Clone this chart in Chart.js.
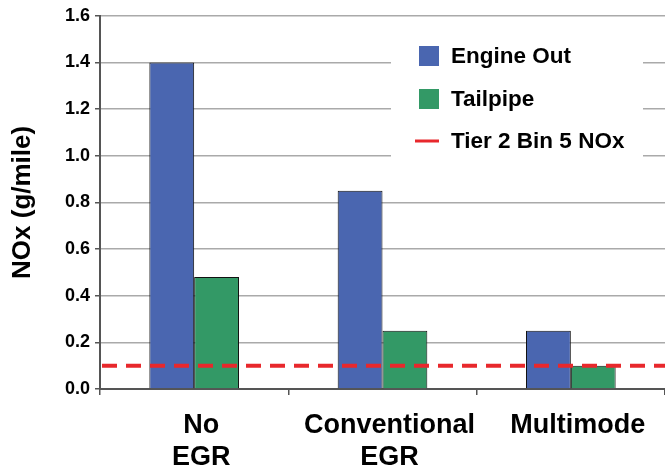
<!DOCTYPE html>
<html>
<head>
<meta charset="utf-8">
<script src="https://cdn.jsdelivr.net/npm/chart.js@4.4.0/dist/chart.umd.min.js"></script>
<style>
  html, body { margin: 0; padding: 0; background: #fff; }
  #wrap { width: 665px; height: 466px; }
</style>
</head>
<body>
<div id="wrap"><canvas id="myChart"></canvas></div>
<script>
/* data */
const categories = [['No', 'EGR'], ['Conventional', 'EGR'], ['Multimode']];
const engineOut = [1.40, 0.85, 0.25];
const tailpipe = [0.48, 0.25, 0.10];
const tierLimit = 0.10;
const seriesNames = ['Engine Out', 'Tailpipe', 'Tier 2 Bin 5 NOx'];
const yTicks = [0, 0.2, 0.4, 0.6, 0.8, 1.0, 1.2, 1.4, 1.6];

const FONT = "'Liberation Sans', Arial, sans-serif";
const BLUE = '#4a66b0';
const GREEN = '#339966';
const RED = '#e8282c';

/* dashed limit line + legend box */
const extras = {
    id: 'extras',
    beforeDatasetsDraw(chart) {
        const ctx = chart.ctx;
        ctx.save();
        ctx.fillStyle = '#fff';
        ctx.fillRect(391, 25, 252, 150);
        ctx.restore();
    },
    afterDatasetsDraw(chart) {
        const ctx = chart.ctx;
        const area = chart.chartArea;
        const y = chart.scales.y.getPixelForValue(tierLimit);
        ctx.save();
        ctx.strokeStyle = RED;
        ctx.lineWidth = 4;
        ctx.setLineDash([15, 9]);
        ctx.beginPath();
        ctx.moveTo(area.left + 2, y);
        ctx.lineTo(area.right, y);
        ctx.stroke();
        ctx.restore();
    },
    afterDraw(chart) {
        const ctx = chart.ctx;
        ctx.save();
        ctx.font = 'bold 22.5px ' + FONT;
        ctx.textBaseline = 'middle';
        const rows = [56, 99, 141];
        ctx.fillStyle = BLUE;
        ctx.fillRect(419, rows[0] - 10, 20, 20);
        ctx.fillStyle = GREEN;
        ctx.fillRect(419, rows[1] - 10, 20, 20);
        ctx.fillStyle = RED;
        ctx.fillRect(415, rows[2] - 1.5, 24, 3);
        ctx.fillStyle = '#000';
        seriesNames.forEach((s, i) => ctx.fillText(s, 451, rows[i] + 1));
        ctx.restore();
    }
};

const myChart = new Chart(document.getElementById('myChart'), {
    type: 'bar',
    data: {
        labels: categories,
        datasets: [{
            label: seriesNames[0],
            data: engineOut,
            backgroundColor: BLUE,
            borderColor: '#111',
            borderWidth: 1,
            borderSkipped: 'bottom',
            categoryPercentage: 0.476,
            barPercentage: 1.0
        }, {
            label: seriesNames[1],
            data: tailpipe,
            backgroundColor: GREEN,
            borderColor: '#111',
            borderWidth: 1,
            borderSkipped: 'bottom',
            categoryPercentage: 0.476,
            barPercentage: 1.0
        }]
    },
    options: {
        responsive: true,
        maintainAspectRatio: false,
        animation: false,
        layout: { padding: { top: 9.5, right: 0, left: 0, bottom: 0 } },
        plugins: {
            legend: { display: false },
            tooltip: { enabled: false }
        },
        scales: {
            x: {
                grid: {
                    offset: true,
                    drawOnChartArea: false,
                    color: '#555',
                    tickLength: 6,
                    lineWidth: 1.5
                },
                border: { color: '#555', width: 2 },
                ticks: {
                    color: '#000',
                    font: { family: FONT, size: 27, weight: 'bold', lineHeight: 1.185 },
                    padding: 15,
                    labelOffset: 7,
                    maxRotation: 0
                },
                afterFit(scale) { scale.height = 77; }
            },
            y: {
                min: 0,
                max: 1.6,
                afterBuildTicks(scale) { scale.ticks = yTicks.map(v => ({ value: v })); },
                grid: {
                    color: '#aaa',
                    lineWidth: 1.5,
                    tickLength: 5,
                    tickColor: '#555'
                },
                border: { color: '#555', width: 2 },
                ticks: {
                    color: '#000',
                    font: { family: FONT, size: 18, weight: 'bold' },
                    padding: 5,
                    callback: v => v.toFixed(1)
                },
                title: {
                    display: true,
                    text: 'NOx (g/mile)',
                    color: '#000',
                    font: { family: FONT, size: 26, weight: 'bold' },
                    padding: { top: 7, bottom: 0 }
                },
                afterFit(scale) { scale.width = 100; }
            }
        }
    },
    plugins: [extras]
});
</script>
</body>
</html>
